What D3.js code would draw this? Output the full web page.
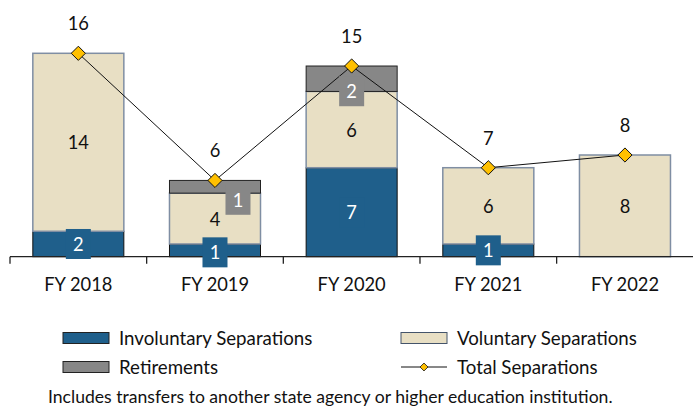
<!DOCTYPE html>
<html>
<head>
<meta charset="utf-8">
<script src="https://cdn.jsdelivr.net/npm/d3@7"></script>
<style>
    body { margin: 0; background: #ffffff; }
    svg { display: block; font-family: Lato, "Open Sans", sans-serif; }
</style>
</head>
<body>
<svg id="drawing_region"></svg>
<script>
const years = [ "FY 2018", "FY 2019", "FY 2020", "FY 2021", "FY 2022" ];
const involuntary = [ 2, 1, 7, 1, 0 ];
const voluntary = [ 14, 4, 6, 6, 8 ];
const retirements = [ 0, 1, 2, 0, 0 ];
const totals = [ 16, 6, 15, 7, 8 ];
const seriesNames = [ "Involuntary Separations", "Voluntary Separations", "Retirements" ];
const footnote = "Includes transfers to another state agency or higher education institution.";

// label boxes that were moved by hand in the original
const nudge = {
    "Retirements|FY 2019": [ 23, 13 ],
    "Retirements|FY 2020": [ 0, 12.5 ],
    "Involuntary Separations|FY 2019": [ 0, 2 ]
};

const colors = {
    "Involuntary Separations": { fill: "#1F5F8B", stroke: "#111111", text: "#ffffff" },
    "Voluntary Separations": { fill: "#E8DFC4", stroke: "#7F8EA3", text: "#111111" },
    "Retirements": { fill: "#878787", stroke: "#222222", text: "#ffffff" }
};

const rows = years.map( ( y, i ) => ( {
    year: y,
    "Involuntary Separations": involuntary[i],
    "Voluntary Separations": voluntary[i],
    "Retirements": retirements[i],
    total: totals[i]
} ) );

const width = 693, height = 408;
const fontSize = 18.3;
const svg = d3.select( "#drawing_region" )
    .attr( "width", width )
    .attr( "height", height );

const xscale = d3.scaleBand()
    .domain( years )
    .range( [ 10, 693.3 ] )
    .paddingInner( 0.334 )
    .paddingOuter( 0.167 );

const yscale = d3.scaleLinear()
    .domain( [ 0, 16 ] )
    .range( [ 256.7, 53.3 ] );

const stacked = d3.stack().keys( seriesNames )( rows );

const bars = svg.append( "g" );
stacked.forEach( layer => {
    const c = colors[layer.key];
    bars.append( "g" )
        .selectAll( "rect" )
        .data( layer.filter( d => d[1] - d[0] > 0 ) )
        .enter()
        .append( "rect" )
        .attr( "x", d => xscale( d.data.year ) )
        .attr( "y", d => yscale( d[1] ) )
        .attr( "width", xscale.bandwidth() )
        .attr( "height", d => yscale( d[0] ) - yscale( d[1] ) )
        .attr( "fill", c.fill )
        .attr( "stroke", c.stroke )
        .attr( "stroke-width", layer.key == "Voluntary Separations" ? 1.5 : 1 );
} );

// x axis: full width line with ticks between categories
const xaxis = svg.append( "g" );
xaxis.append( "line" )
    .attr( "x1", 10 ).attr( "x2", width )
    .attr( "y1", yscale( 0 ) ).attr( "y2", yscale( 0 ) )
    .attr( "stroke", "#222" ).attr( "stroke-width", 1.3 );
xaxis.selectAll( "line.tick" )
    .data( years )
    .enter()
    .append( "line" )
    .attr( "class", "tick" )
    .attr( "x1", d => xscale( d ) - xscale.step() * xscale.paddingOuter() )
    .attr( "x2", d => xscale( d ) - xscale.step() * xscale.paddingOuter() )
    .attr( "y1", yscale( 0 ) ).attr( "y2", yscale( 0 ) + 7 )
    .attr( "stroke", "#222" ).attr( "stroke-width", 1.3 );
xaxis.selectAll( "text" )
    .data( years )
    .enter()
    .append( "text" )
    .attr( "x", d => xscale( d ) + xscale.bandwidth() / 2 )
    .attr( "y", 284 )
    .attr( "text-anchor", "middle" )
    .attr( "dominant-baseline", "central" )
    .attr( "font-size", fontSize )
    .attr( "fill", "#111" )
    .text( d => d );

// total line
const line = d3.line()
    .x( d => xscale( d.year ) + xscale.bandwidth() / 2 )
    .y( d => yscale( d.total ) );
svg.append( "path" )
    .datum( rows )
    .attr( "d", line )
    .attr( "fill", "none" )
    .attr( "stroke", "#111" )
    .attr( "stroke-width", 1 );

// segment labels
const labels = svg.append( "g" );
stacked.forEach( layer => {
    const c = colors[layer.key];
    layer.filter( d => d[1] - d[0] > 0 ).forEach( d => {
        const n = nudge[layer.key + "|" + d.data.year] || [ 0, 0 ];
        const cx = xscale( d.data.year ) + xscale.bandwidth() / 2 + n[0];
        const cy = ( yscale( d[0] ) + yscale( d[1] ) ) / 2 + n[1];
        const g = labels.append( "g" ).attr( "transform", `translate(${cx}, ${cy})` );
        if ( layer.key != "Voluntary Separations" ) {
            g.append( "rect" )
                .attr( "x", -12.5 ).attr( "y", -15 )
                .attr( "width", 25 ).attr( "height", 30 )
                .attr( "fill", c.fill );
        }
        g.append( "text" )
            .attr( "text-anchor", "middle" )
            .attr( "dominant-baseline", "central" )
            .attr( "font-size", fontSize )
            .attr( "fill", c.text )
            .text( d[1] - d[0] );
    } );
} );

// diamonds + total labels
const diamond = d3.symbol().type( d3.symbolDiamond2 ).size( 128 );
svg.append( "g" )
    .selectAll( "path" )
    .data( rows )
    .enter()
    .append( "path" )
    .attr( "d", diamond )
    .attr( "transform", d => `translate(${xscale( d.year ) + xscale.bandwidth() / 2}, ${yscale( d.total )})` )
    .attr( "fill", "#FFC000" )
    .attr( "stroke", "#111" )
    .attr( "stroke-width", 1 );

svg.append( "g" )
    .selectAll( "text" )
    .data( rows )
    .enter()
    .append( "text" )
    .attr( "x", d => xscale( d.year ) + xscale.bandwidth() / 2 )
    .attr( "y", d => yscale( d.total ) - 30 )
    .attr( "text-anchor", "middle" )
    .attr( "dominant-baseline", "central" )
    .attr( "font-size", fontSize )
    .attr( "fill", "#111" )
    .text( d => d.total );

// legend
const legendItems = [
    { name: "Involuntary Separations", x: 63, y: 338 },
    { name: "Voluntary Separations", x: 401, y: 338 },
    { name: "Retirements", x: 63, y: 367 },
    { name: "Total Separations", x: 401, y: 367 }
];
const legend = svg.append( "g" );
legendItems.forEach( item => {
    const g = legend.append( "g" ).attr( "transform", `translate(${item.x}, ${item.y})` );
    if ( colors[item.name] ) {
        g.append( "rect" )
            .attr( "x", 0 ).attr( "y", -5.5 )
            .attr( "width", 46 ).attr( "height", 11 )
            .attr( "fill", colors[item.name].fill )
            .attr( "stroke", item.name == "Voluntary Separations" ? "#44546A" : "#222" )
            .attr( "stroke-width", 1 );
    } else {
        g.append( "line" )
            .attr( "x1", 0 ).attr( "x2", 46 )
            .attr( "stroke", "#111" ).attr( "stroke-width", 1 );
        g.append( "path" )
            .attr( "d", d3.symbol().type( d3.symbolDiamond2 ).size( 40 ) )
            .attr( "transform", "translate(23, 0)" )
            .attr( "fill", "#FFC000" )
            .attr( "stroke", "#111" )
            .attr( "stroke-width", 0.8 );
    }
    g.append( "text" )
        .attr( "x", 56 )
        .attr( "dominant-baseline", "central" )
        .attr( "font-size", 18.7 )
        .attr( "fill", "#111" )
        .text( item.name );
} );

svg.append( "text" )
    .attr( "x", 48 )
    .attr( "y", 396 )
    .attr( "dominant-baseline", "central" )
    .attr( "font-size", 17.6 )
    .attr( "fill", "#111" )
    .text( footnote );
</script>
</body>
</html>
